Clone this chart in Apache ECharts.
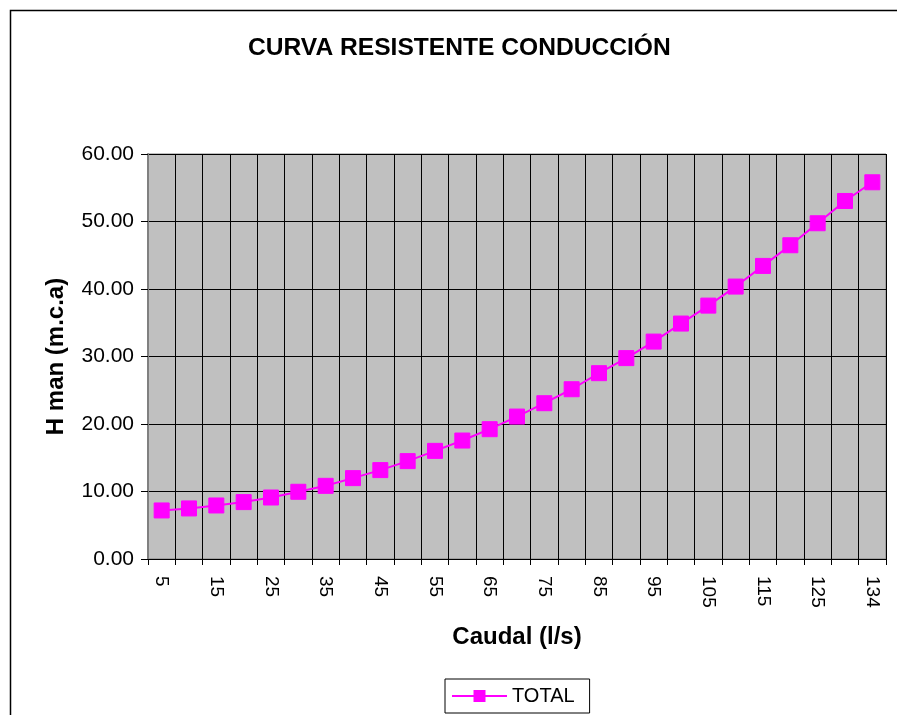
<!DOCTYPE html>
<html>
<head>
<meta charset="utf-8">
<script src="https://cdn.jsdelivr.net/npm/echarts@6/dist/echarts.min.js"></script>
<style>
  html, body { margin: 0; padding: 0; background: #fff; }
  #chart { width: 897px; height: 715px; }
</style>
</head>
<body>
<div id="chart"></div>
<script>
// Caudal (l/s)
const caudal = [5, 10, 15, 20, 25, 30, 35, 40, 45, 50, 55, 60, 65, 70, 75, 80, 85, 90, 95, 100, 105, 110, 115, 120, 125, 130, 134];
// Altura manométrica total (m.c.a)
const total = [7.19, 7.49, 7.93, 8.43, 9.11, 9.96, 10.84, 11.98, 13.17, 14.50, 16.02, 17.55, 19.23, 21.10, 23.08, 25.15, 27.53, 29.76, 32.21, 34.88, 37.54, 40.36, 43.42, 46.48, 49.74, 53.04, 55.81];
const yTicks = { min: 0, max: 60, step: 10 };

const FONT = '"Liberation Sans", Arial, sans-serif';
const chart = echarts.init(document.getElementById('chart'));

chart.setOption({
  animation: false,
  backgroundColor: '#ffffff',
  title: {
    text: 'CURVA RESISTENTE CONDUCCIÓN',
    left: 243,
    top: 31,
    textStyle: { fontFamily: FONT, fontWeight: 'bold', fontSize: 24.6, color: '#000' }
  },
  legend: {
    data: ['TOTAL'],
    left: 445,
    top: 679,
    orient: 'horizontal',
    borderColor: '#000',
    borderWidth: 1,
    padding: [7, 15, 7, 6],
    itemWidth: 55,
    itemHeight: 15,
    itemGap: 0,
    textStyle: { fontFamily: FONT, fontSize: 20, color: '#000' }
  },
  grid: {
    left: 148,
    right: 11,
    top: 154,
    bottom: 156,
    show: true,
    backgroundColor: '#C0C0C0',
    borderColor: '#808080',
    borderWidth: 1
  },
  xAxis: {
    type: 'category',
    data: caudal,
    boundaryGap: true,
    name: 'Caudal (l/s)',
    nameLocation: 'middle',
    nameGap: 66,
    nameTextStyle: { fontFamily: FONT, fontWeight: 'bold', fontSize: 24, color: '#000', verticalAlign: 'top' },
    axisLine: { lineStyle: { color: '#000', width: 1 } },
    axisTick: { show: true, interval: 0, length: 6, lineStyle: { color: '#000' } },
    axisLabel: {
      interval: 1,
      rotate: -90,
      margin: 17,
      fontFamily: FONT,
      fontSize: 19,
      color: '#000'
    },
    splitLine: { show: true, interval: 0, lineStyle: { color: '#000', width: 1 } }
  },
  yAxis: {
    type: 'value',
    min: yTicks.min,
    max: yTicks.max,
    interval: yTicks.step,
    name: 'H man (m.c.a)',
    nameLocation: 'middle',
    nameGap: 80,
    nameTextStyle: { fontFamily: FONT, fontWeight: 'bold', fontSize: 24, color: '#000' },
    axisLine: { show: true, lineStyle: { color: '#808080', width: 2 } },
    axisTick: { show: true, length: 7, lineStyle: { color: '#000' } },
    axisLabel: {
      margin: 14,
      fontFamily: FONT,
      fontSize: 21,
      color: '#000',
      formatter: v => v.toFixed(2)
    },
    splitLine: { show: true, lineStyle: { color: '#000', width: 1 } }
  },
  series: [{
    name: 'TOTAL',
    type: 'line',
    data: total,
    symbol: 'rect',
    symbolSize: 15,
    showAllSymbol: true,
    lineStyle: { color: '#FF00FF', width: 2 },
    itemStyle: { color: '#FF00FF', borderColor: '#FF00FF' }
  }],
  graphic: [{
    type: 'polyline',
    shape: { points: [[10.5, 715], [10.5, 10.5], [897, 10.5]] },
    style: { stroke: '#000', lineWidth: 1.5, fill: null },
    silent: true
  }]
});
</script>
</body>
</html>
